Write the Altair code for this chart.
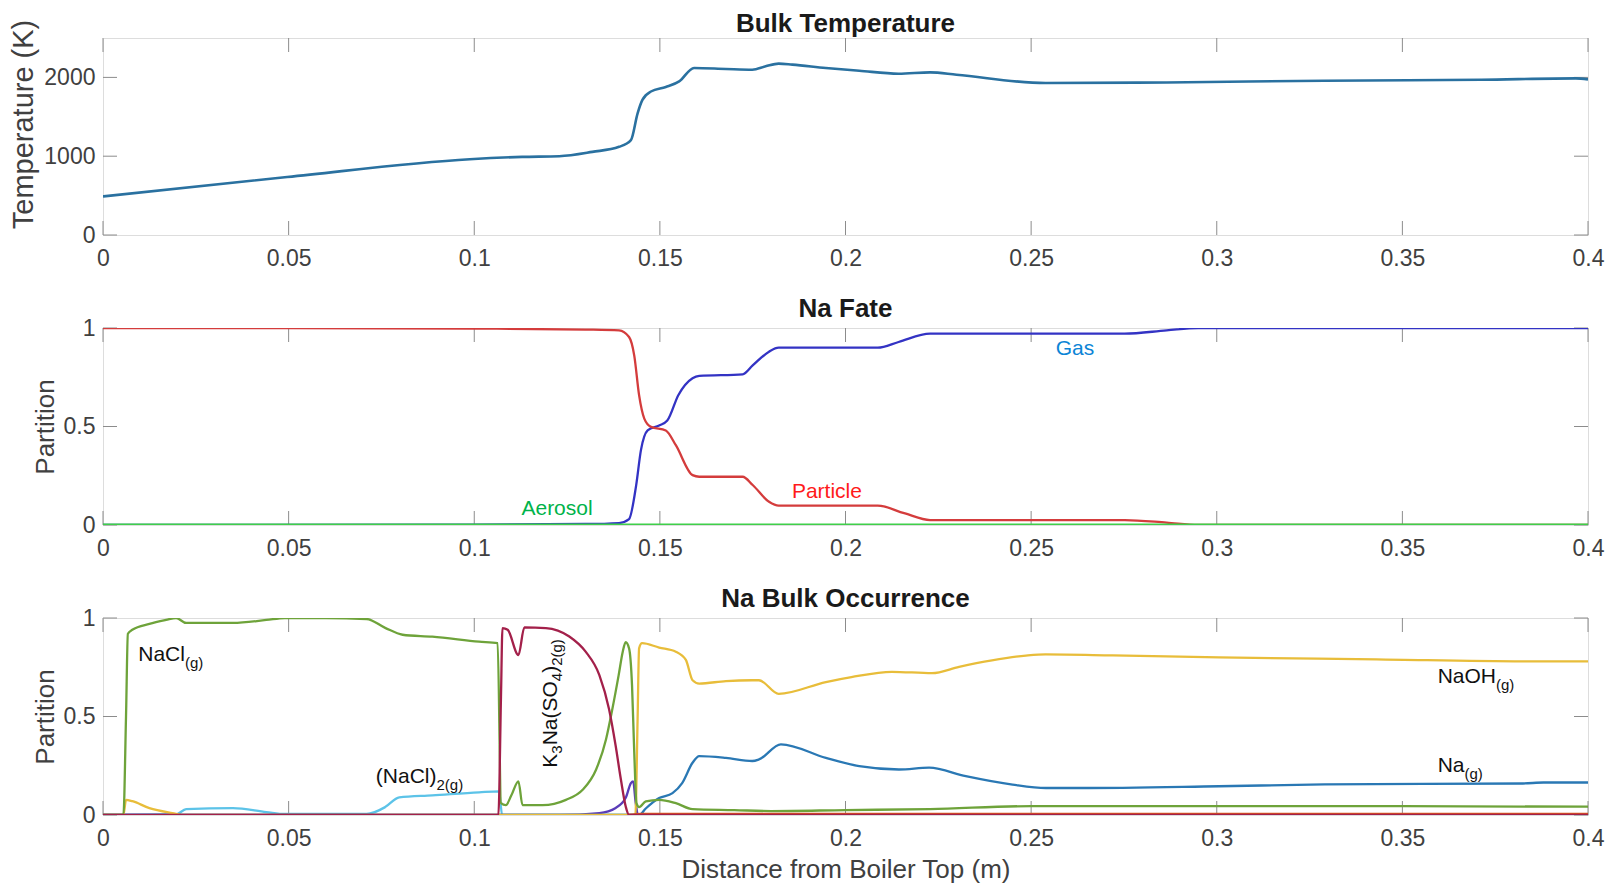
import altair as alt
import pandas as pd

FONT = "Liberation Sans"

# ---------------- data ----------------
x_ticks = [0, 0.05, 0.1, 0.15, 0.2, 0.25, 0.3, 0.35, 0.4]
temp_ticks = [0, 1000, 2000]
part_ticks = [0, 0.5, 1]

# Panel 1: Bulk Temperature
temp_x = [0, 0.0496, 0.0988, 0.1129, 0.1229, 0.1318, 0.139, 0.1422, 0.144, 0.1453, 0.1476,
          0.1516, 0.1552, 0.1592, 0.1678, 0.1749, 0.1785, 0.182, 0.1857, 0.1947, 0.2037,
          0.2143, 0.2228, 0.2299, 0.2539, 0.2865, 0.3289, 0.3712, 0.3967, 0.4]
temp_y = [490, 736, 962, 991, 1000, 1055, 1119, 1204, 1545, 1715, 1821,
          1877, 1949, 2120, 2107, 2098, 2141, 2175, 2162, 2120, 2085,
          2047, 2064, 2034, 1928, 1936, 1958, 1970, 1987, 1975]

# Panel 2: Na Fate
particle_x = [0, 0.05, 0.1, 0.13, 0.139, 0.1417, 0.1431, 0.1444, 0.1458, 0.1476, 0.1516, 0.1543,
              0.1588, 0.1606, 0.1723, 0.175, 0.1794, 0.182, 0.2087, 0.2158, 0.2228, 0.2752,
              0.2865, 0.295, 0.4]
particle_y = [1.0, 1.0, 0.997, 0.992, 0.988, 0.954, 0.86, 0.659, 0.54, 0.498, 0.48, 0.405,
              0.253, 0.245, 0.245, 0.203, 0.118, 0.098, 0.098, 0.06, 0.025, 0.025,
              0.012, 0.0, 0.0]
gas_x = [0, 0.1, 0.13, 0.139, 0.1417, 0.1436, 0.1449, 0.1467, 0.1498, 0.152, 0.155, 0.1588,
         0.1606, 0.1723, 0.175, 0.1794, 0.182, 0.2087, 0.2143, 0.2228, 0.2752, 0.2865, 0.295, 0.4]
gas_y = [0, 0.002, 0.005, 0.01, 0.03, 0.2, 0.38, 0.48, 0.505, 0.53, 0.66, 0.745,
         0.757, 0.765, 0.81, 0.88, 0.9, 0.9, 0.929, 0.971, 0.971, 0.988, 1.0, 1.0]
aerosol_x = [0, 0.4]
aerosol_y = [0, 0]

# Panel 3: Na Bulk Occurrence
nacl_x = [0, 0.0055, 0.0062, 0.0067, 0.0079, 0.0125, 0.017, 0.0197, 0.0224, 0.035, 0.044, 0.049,
          0.06, 0.071, 0.076, 0.0807, 0.0887, 0.1013, 0.1063, 0.1072, 0.1085, 0.110, 0.1119,
          0.113, 0.1184, 0.1247, 0.1292, 0.1328, 0.1355, 0.1372, 0.1389, 0.14, 0.1408, 0.1417,
          0.1425, 0.1431, 0.1437, 0.1444, 0.1462, 0.1498, 0.1543, 0.1588, 0.17, 0.18, 0.2,
          0.2228, 0.25, 0.3, 0.35, 0.4]
nacl_y = [0, 0, 0.5, 0.92, 0.94, 0.97, 0.99, 1.0, 0.975, 0.975, 0.99, 1.0,
          1.0, 0.995, 0.95, 0.915, 0.905, 0.88, 0.872, 0.06, 0.05, 0.10, 0.171,
          0.05, 0.05, 0.077, 0.128, 0.23, 0.385, 0.538, 0.71, 0.829, 0.877, 0.846,
          0.658, 0.316, 0.06, 0.04, 0.069, 0.077, 0.06, 0.03, 0.025, 0.02, 0.025,
          0.03, 0.045, 0.045, 0.045, 0.042]
naoh_x = [0, 0.0055, 0.0062, 0.0079, 0.0125, 0.0187, 0.022, 0.143, 0.1434, 0.144, 0.1444, 0.1452,
          0.1498, 0.1543, 0.157, 0.1588, 0.1606, 0.1678, 0.1749, 0.1767, 0.182, 0.1947, 0.2016,
          0.2125, 0.2233, 0.2306, 0.2486, 0.2539, 0.272, 0.3006, 0.343, 0.3825, 0.4]
naoh_y = [0, 0, 0.077, 0.07, 0.035, 0.01, 0, 0, 0.0, 0.487, 0.846, 0.872,
          0.85, 0.829, 0.787, 0.684, 0.667, 0.68, 0.684, 0.684, 0.615, 0.675, 0.70,
          0.727, 0.72, 0.752, 0.809, 0.815, 0.81, 0.80, 0.79, 0.78, 0.78]
na_x = [0, 0.1444, 0.1462, 0.1498, 0.1534, 0.156, 0.1588, 0.1606, 0.1678, 0.1749, 0.1767, 0.1826,
        0.1947, 0.2037, 0.2144, 0.2225, 0.2324, 0.245, 0.254, 0.263, 0.3006, 0.329, 0.3825,
        0.388, 0.4]
na_y = [0, 0, 0.033, 0.086, 0.111, 0.162, 0.265, 0.299, 0.29, 0.274, 0.282, 0.359,
        0.29, 0.248, 0.231, 0.24, 0.197, 0.154, 0.137, 0.137, 0.146, 0.155, 0.16,
        0.165, 0.165]
nacl2_x = [0, 0.0197, 0.0224, 0.035, 0.044, 0.049, 0.071, 0.076, 0.0798, 0.0887, 0.1013,
           0.1067, 0.1075, 0.4]
nacl2_y = [0, 0.003, 0.03, 0.035, 0.015, 0.005, 0.005, 0.04, 0.09, 0.1, 0.115,
           0.12, 0.0, 0.0]
k3na_x = [0, 0.1065, 0.1072, 0.1076, 0.109, 0.1119, 0.1135, 0.1193, 0.1256, 0.130, 0.1337,
          0.1363, 0.1381, 0.1395, 0.1408, 0.1417, 0.4]
k3na_y = [0, 0, 0.6, 0.949, 0.94, 0.812, 0.952, 0.949, 0.906, 0.829, 0.71,
          0.538, 0.35, 0.18, 0.043, 0.0, 0.0]
purple_x = [0, 0.1229, 0.1337, 0.1381, 0.1408, 0.1422, 0.1428, 0.1435, 0.1441, 0.4]
purple_y = [0, 0, 0.01, 0.036, 0.087, 0.162, 0.171, 0.06, 0, 0]
orange_x = [0.1417, 0.145, 0.4]
orange_y = [0, 0.006, 0.006]

# labels
fate_text = ["Gas", "Particle", "Aerosol"]
fate_x = [0.2618, 0.195, 0.1223]
fate_y = [0.894, 0.166, 0.083]
fate_color = ["#0b84d6", "#ff1a1a", "#00b34a"]

occ_text = ["NaCl", "(NaCl)", "NaOH", "Na"]
occ_sub = ["(g)", "2(g)", "(g)", "(g)"]
occ_x = [0.0095, 0.0735, 0.3595, 0.3595]
occ_y = [0.81, 0.193, 0.702, 0.25]

k3_pieces = ["K", "3", "Na(SO", "4", ")", "2(g)"]
k3_is_sub = [False, True, False, True, False, True]
k3_x = 0.1207
k3_y = 0.24

# ---------------- style ----------------
W, H = 1485, 197
TICK = 14
TICKC = "#8c8c8c"
LBLC = "#404040"
MAIN_FS = 21
SUB_FS = 15
ARIAL = {"K": .667, "3": .556, "N": .722, "a": .556, "(": .333, "S": .667, "O": .778, "4": .556,
         ")": .333, "2": .556, "g": .556, "C": .722, "l": .222, "H": .722}


def twidth(s, fs):
    return sum(ARIAL.get(c, .556) for c in s) * fs


def xenc(field, title=None):
    return alt.X(field, type="quantitative",
                 scale=alt.Scale(domain=[0, 0.4], nice=False, zero=False),
                 axis=alt.Axis(values=x_ticks, format=".2~f", ticks=False, domain=False, grid=False,
                               labelFont=FONT, labelFontSize=23, labelColor=LBLC, labelPadding=12,
                               labelFlush=False, labelOverlap=False,
                               title=title, titleFont=FONT, titleFontSize=26,
                               titleFontWeight="normal", titleColor=LBLC, titlePadding=6))


def yenc(field, domain, ticks, fmt, title, tfs=26, ty=None):
    kw = {}
    if ty is not None:
        kw["titleY"] = ty
    return alt.Y(field, type="quantitative",
                 scale=alt.Scale(domain=domain, nice=False, zero=False),
                 axis=alt.Axis(values=ticks, format=fmt, ticks=False, domain=False, grid=False,
                               labelFont=FONT, labelFontSize=23, labelColor=LBLC, labelPadding=8,
                               labelFlush=False, labelOverlap=False,
                               title=title, titleFont=FONT, titleFontSize=tfs,
                               titleFontWeight="normal", titleColor=LBLC, titlePadding=5, **kw))


def tick_layers(ydomain, yticks, yfmt, ytitle, xtitle=None, tfs=26, ty=None):
    xt = pd.DataFrame({"t": x_ticks})
    yt = pd.DataFrame({"v": yticks})
    out = []
    for y0, y1 in [(0, TICK), (H, H - TICK)]:
        out.append(alt.Chart(xt).mark_rule(color=TICKC, strokeWidth=1).encode(
            x=xenc("t", xtitle), y=alt.value(y0), y2=alt.value(y1)))
    for x0, x1 in [(0, TICK), (W - TICK, W)]:
        out.append(alt.Chart(yt).mark_rule(color=TICKC, strokeWidth=1).encode(
            y=yenc("v", ydomain, yticks, yfmt, ytitle, tfs, ty), x=alt.value(x0), x2=alt.value(x1)))
    return out


def line_layer(xs, ys, color, ydomain, yticks, yfmt, ytitle, xtitle=None, width=2.3, tfs=26, ty=None):
    df = pd.DataFrame({"x": xs, "y": ys})
    return alt.Chart(df).mark_line(color=color, strokeWidth=width, interpolate="monotone",
                                   clip=True).encode(
        x=xenc("x", xtitle), y=yenc("y", ydomain, yticks, yfmt, ytitle, tfs, ty))


def title(text, off):
    return alt.TitleParams(text=text, font=FONT, fontSize=26, fontWeight="bold", color="#1a1a1a",
                           offset=off, anchor="middle")


# ---------------- panel 1 ----------------
d1 = [0, 2500]
T1 = "Temperature (K)"
p1_layers = tick_layers(d1, temp_ticks, "d", T1, tfs=29, ty=86)
p1_layers.append(line_layer(temp_x, temp_y, "#2a71a0", d1, temp_ticks, "d", T1, width=2.6,
                            tfs=29, ty=86))
p1 = alt.layer(*p1_layers).properties(width=W, height=H, title=title("Bulk Temperature", -18))

# ---------------- panel 2 ----------------
d2 = [0, 1]
p2_layers = tick_layers(d2, part_ticks, "~g", "Partition")
p2_layers.append(line_layer(gas_x, gas_y, "#3333c4", d2, part_ticks, "~g", "Partition"))
p2_layers.append(line_layer(particle_x, particle_y, "#d43c3c", d2, part_ticks, "~g", "Partition"))
p2_layers.append(line_layer(aerosol_x, aerosol_y, "#3fcf4a", d2, part_ticks, "~g", "Partition", width=2.8))
for t, xv, yv, c in zip(fate_text, fate_x, fate_y, fate_color):
    df = pd.DataFrame({"x": [xv], "y": [yv], "t": [t]})
    p2_layers.append(alt.Chart(df).mark_text(font=FONT, fontSize=MAIN_FS, color=c, align="center",
                                             baseline="middle").encode(
        x=xenc("x"), y=yenc("y", d2, part_ticks, "~g", "Partition"), text="t:N"))
p2 = alt.layer(*p2_layers).properties(width=W, height=H, title=title("Na Fate", -5))

# ---------------- panel 3 ----------------
XT = "Distance from Boiler Top (m)"
p3_layers = tick_layers(d2, part_ticks, "~g", "Partition", XT)
series3 = [
    (nacl2_x, nacl2_y, "#5cc3e8"),
    (purple_x, purple_y, "#5a3cb8"),
    (na_x, na_y, "#2a78b4"),
    (naoh_x, naoh_y, "#e8bd3a"),
    (nacl_x, nacl_y, "#6ea33a"),
    (orange_x, orange_y, "#d9531e"),
    (k3na_x, k3na_y, "#a3204a"),
]
for xs, ys, c in series3:
    p3_layers.append(line_layer(xs, ys, c, d2, part_ticks, "~g", "Partition", XT))

for t, s, xv, yv in zip(occ_text, occ_sub, occ_x, occ_y):
    df = pd.DataFrame({"x": [xv], "y": [yv], "t": [t], "s": [s]})
    enc = dict(x=xenc("x", XT), y=yenc("y", d2, part_ticks, "~g", "Partition"))
    p3_layers.append(alt.Chart(df).mark_text(font=FONT, fontSize=MAIN_FS, color="#111111",
                                             align="left", baseline="middle").encode(text="t:N", **enc))
    p3_layers.append(alt.Chart(df).mark_text(font=FONT, fontSize=SUB_FS, color="#111111",
                                             align="left", baseline="middle",
                                             dx=twidth(t, MAIN_FS), dy=8).encode(text="s:N", **enc))

offset = 0.0
for piece, sub in zip(k3_pieces, k3_is_sub):
    fs = SUB_FS if sub else MAIN_FS
    df = pd.DataFrame({"x": [k3_x], "y": [k3_y], "t": [piece]})
    p3_layers.append(alt.Chart(df).mark_text(font=FONT, fontSize=fs, color="#111111", align="left",
                                             baseline="middle", angle=270, dx=offset,
                                             dy=6 if sub else 0).encode(
        x=xenc("x", XT), y=yenc("y", d2, part_ticks, "~g", "Partition"), text="t:N"))
    offset += twidth(piece, fs)

p3 = alt.layer(*p3_layers).properties(width=W, height=H, title=title("Na Bulk Occurrence", -5))

chart = alt.vconcat(p1, p2, p3, spacing=24).properties(
    padding={"top": 2, "left": 1, "right": 5, "bottom": 0}
).configure_view(stroke="#8c8c8c", strokeWidth=1.2).configure(background="white")

chart.save("out.html", embed_options={"renderer": "svg", "actions": False})
